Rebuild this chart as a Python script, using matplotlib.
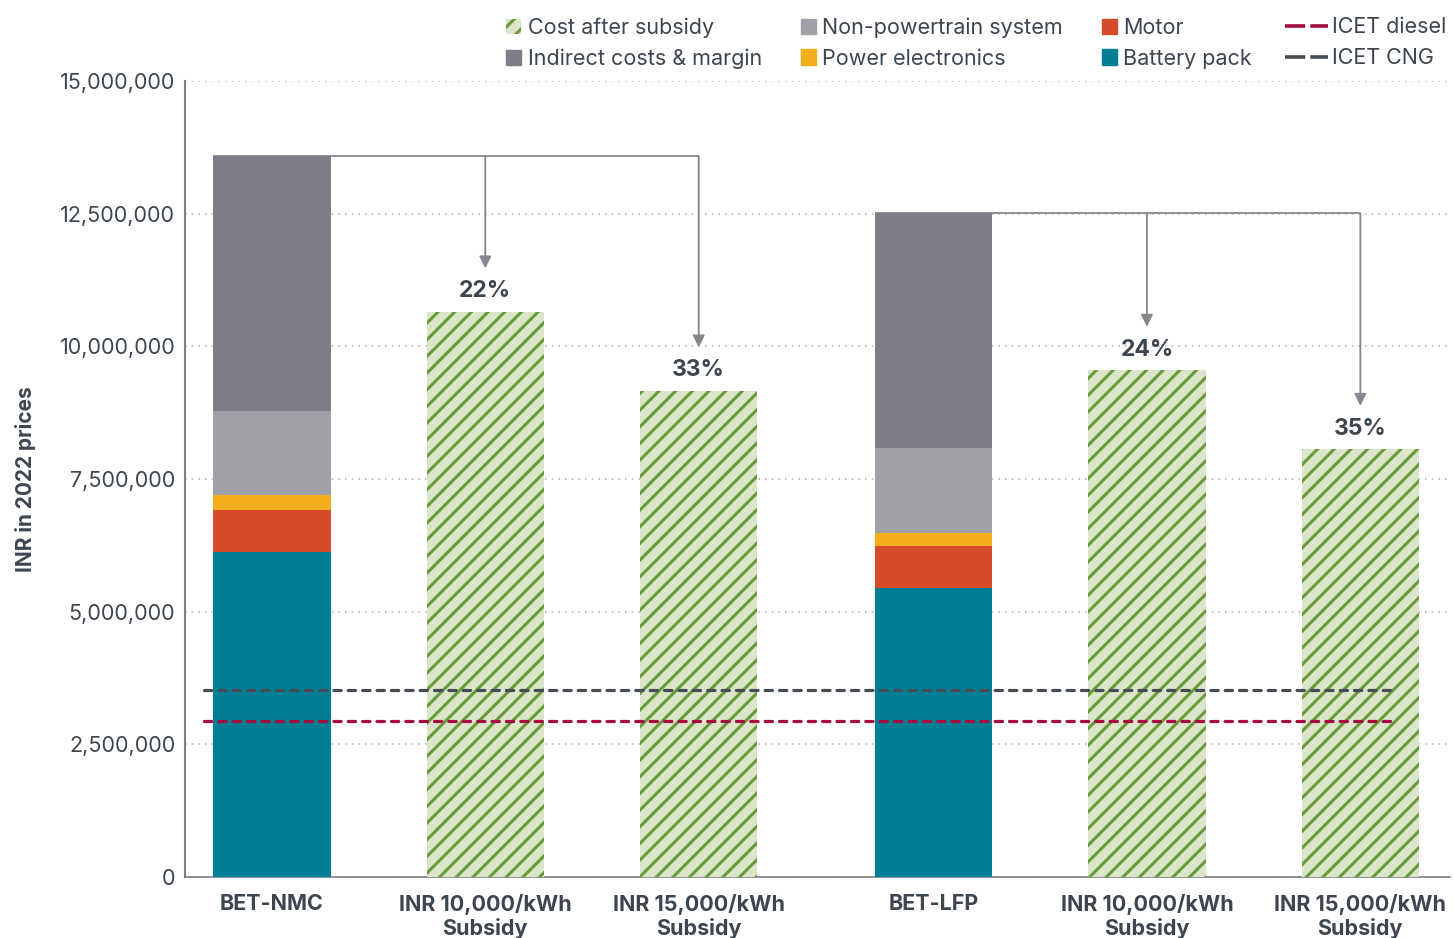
import matplotlib
matplotlib.use("Agg")
import matplotlib.pyplot as plt
from matplotlib.patches import Patch
from matplotlib.lines import Line2D

plt.rcParams['font.family'] = ['Inter', 'DejaVu Sans']
plt.rcParams['hatch.linewidth'] = 2.2

# ---- data ----
categories = ["BET-NMC", "INR 10,000/kWh\nSubsidy", "INR 15,000/kWh\nSubsidy",
              "BET-LFP", "INR 10,000/kWh\nSubsidy", "INR 15,000/kWh\nSubsidy"]
positions = [0, 1, 2, 3.1, 4.1, 5.1]

stack_names = ["Battery pack", "Motor", "Power electronics",
               "Non-powertrain system", "Indirect costs & margin"]
battery_pack = [6.12e6, 5.45e6]
motor = [0.80e6, 0.79e6]
power_electronics = [0.28e6, 0.24e6]
non_powertrain = [1.58e6, 1.60e6]
indirect = [4.81e6, 4.43e6]

subsidy_costs = [10.65e6, 9.16e6, 9.55e6, 8.06e6]
subsidy_pct = ["22%", "33%", "24%", "35%"]

icet_diesel = 2.94e6
icet_cng = 3.52e6

yticks = [0, 2.5e6, 5e6, 7.5e6, 10e6, 12.5e6, 15e6]

# ---- styles ----
colors = {"Battery pack": "#007f94", "Motor": "#d84b2a",
          "Power electronics": "#f2ae1c", "Non-powertrain system": "#a0a1a6",
          "Indirect costs & margin": "#7e7e88"}
hatch_face = "#dbe5c9"
hatch_line = "#6b9a3c"
text_col = "#3d4650"
arrow_col = "#86868e"

fig = plt.figure(figsize=(14.54, 9.38), dpi=100)
ax = fig.add_axes([185/1454, 1-877/938, (1450-185)/1454, (877-81)/938])

width = 0.55
stack_pos = [positions[0], positions[3]]
stacks = [battery_pack, motor, power_electronics, non_powertrain, indirect]
bottoms = [0.0, 0.0]
for name, vals in zip(stack_names, stacks):
    ax.bar(stack_pos, vals, width, bottom=bottoms, color=colors[name],
           linewidth=0, zorder=3)
    bottoms = [b + v for b, v in zip(bottoms, vals)]
totals = bottoms

sub_pos = [positions[1], positions[2], positions[4], positions[5]]
ax.bar(sub_pos, subsidy_costs, width, color=hatch_face, edgecolor=hatch_line,
       hatch="//", linewidth=0, zorder=3)

# reference lines
x0, x1 = -0.32, 5.26
ax.plot([x0, x1], [icet_cng, icet_cng], color="#454c55", lw=2.3,
        dashes=(2.3, 2.2), dash_capstyle='round', zorder=5)
ax.plot([x0, x1], [icet_diesel, icet_diesel], color="#a50d40", lw=2.3,
        dashes=(2.3, 2.2), dash_capstyle='round', zorder=5)

# brackets with arrows and percent labels
groups = [(0, [1, 2], [0, 1]), (1, [4, 5], [2, 3])]
for gi, pidx, sidx in groups:
    top = totals[gi]
    ax.plot([stack_pos[gi] - width / 2, positions[pidx[-1]]], [top, top],
            color=arrow_col, lw=1.3, zorder=2, solid_capstyle='butt')
    for p, s in zip(pidx, sidx):
        tip = subsidy_costs[s] + 0.82e6
        ax.annotate("", xy=(positions[p], tip), xytext=(positions[p], top),
                    arrowprops=dict(arrowstyle="-|>", color=arrow_col, lw=1.3,
                                    mutation_scale=18, shrinkA=0, shrinkB=0),
                    zorder=2)
        ax.text(positions[p], subsidy_costs[s] + 0.39e6, subsidy_pct[s],
                ha="center", va="center", fontsize=16.5, fontweight="bold",
                color=text_col)

# axes styling
ax.set_xlim(-0.407, 5.52)
ax.set_ylim(0, 15e6)
ax.set_yticks(yticks)
ax.set_yticklabels([f"{int(v):,}" for v in yticks], fontsize=15.5, color=text_col)
ax.set_xticks(positions)
ax.set_xticklabels(categories, fontsize=15.5, fontweight="bold", color=text_col,
                   linespacing=1.17)
ax.tick_params(axis="both", length=0)
ax.tick_params(axis="y", pad=7)
ax.tick_params(axis="x", pad=12)
for s in ["top", "right"]:
    ax.spines[s].set_visible(False)
ax.spines["left"].set_color("#7a7f88")
ax.spines["left"].set_linewidth(1.5)
ax.spines["bottom"].set_color("#7a7f88")
ax.spines["bottom"].set_linewidth(1.2)
ax.grid(axis="y", linestyle=(0, (1, 3)), color="#b8b8b8", lw=1.2, zorder=0)
ax.set_axisbelow(True)
ax.set_ylabel("INR in 2022 prices", fontsize=15, fontweight="bold",
              color=text_col, labelpad=17)

# legends
patch_handles = [
    Patch(facecolor=hatch_face, edgecolor=hatch_line, hatch="//", linewidth=0,
          label="Cost after subsidy"),
    Patch(color=colors["Indirect costs & margin"], label="Indirect costs & margin"),
    Patch(color=colors["Non-powertrain system"], label="Non-powertrain system"),
    Patch(color=colors["Power electronics"], label="Power electronics"),
    Patch(color=colors["Motor"], label="Motor"),
    Patch(color=colors["Battery pack"], label="Battery pack"),
]
leg1 = fig.legend(handles=patch_handles, ncol=3, loc="upper left",
                  bbox_to_anchor=(502/1454, 1-13/938), frameon=False,
                  fontsize=15.5, handlelength=0.7, handleheight=0.7,
                  handletextpad=0.3, columnspacing=1.8, labelspacing=0.5,
                  labelcolor=text_col, borderaxespad=0, borderpad=0.2)
line_handles = [
    Line2D([], [], color="#a50d40", lw=2.6, dashes=(5.6, 1.4), label="ICET diesel"),
    Line2D([], [], color="#454c55", lw=2.6, dashes=(5.6, 1.4), label="ICET CNG"),
]
leg2 = fig.legend(handles=line_handles, ncol=1, loc="upper left",
                  bbox_to_anchor=(1281/1454, 1-13/938), frameon=False,
                  fontsize=15.5, handlelength=2.0, handletextpad=0.15,
                  labelspacing=0.5, labelcolor=text_col, borderaxespad=0,
                  borderpad=0.2)

fig.savefig("out.png", dpi=100)
